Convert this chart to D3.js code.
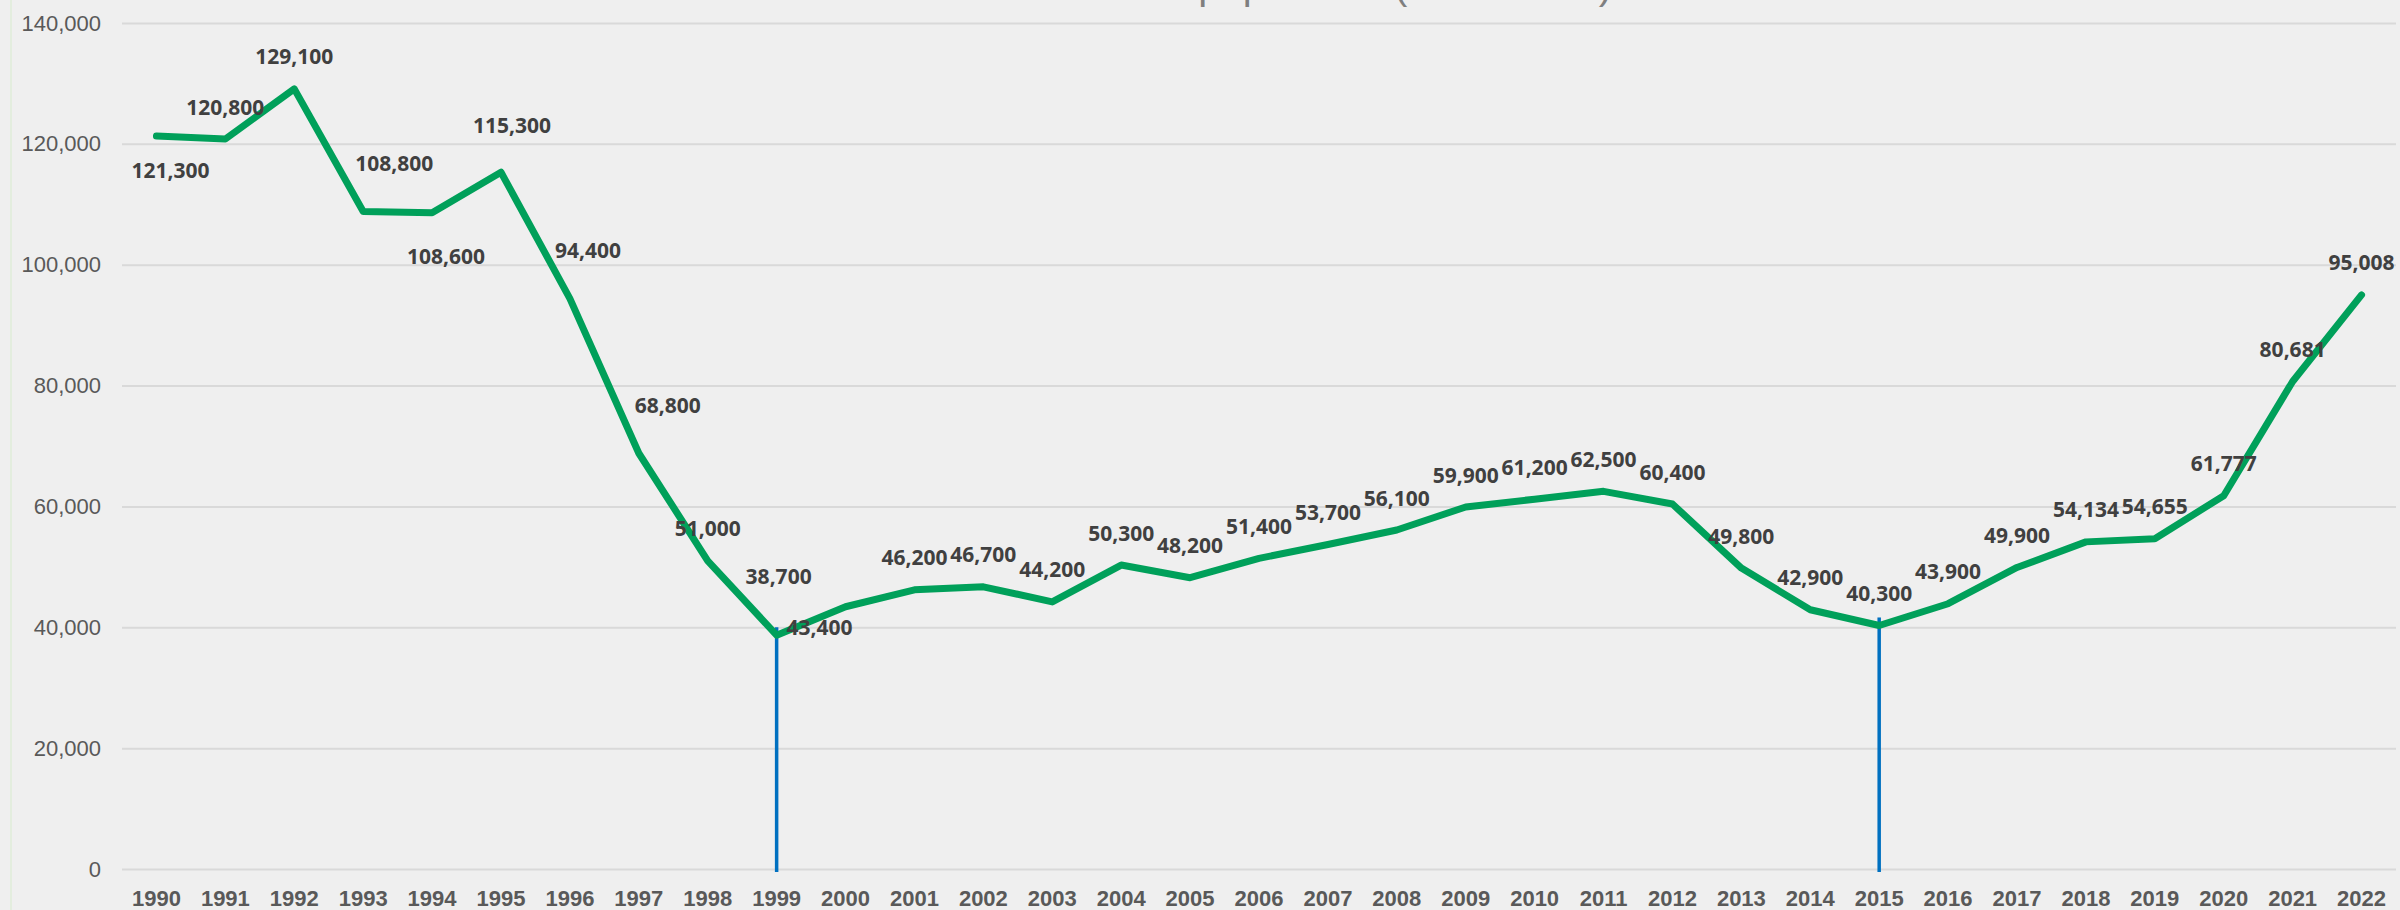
<!DOCTYPE html>
<html>
<head>
<meta charset="utf-8">
<script src="https://cdn.jsdelivr.net/npm/d3@7"></script>
<style>
  html, body { margin: 0; padding: 0; background: #efefef; }
  svg { display: block; }
</style>
</head>
<body>
<svg id="chart" width="2400" height="910"></svg>
<script>
// data
var years = [1990, 1991, 1992, 1993, 1994, 1995, 1996, 1997, 1998, 1999, 2000,
  2001, 2002, 2003, 2004, 2005, 2006, 2007, 2008, 2009, 2010, 2011,
  2012, 2013, 2014, 2015, 2016, 2017, 2018, 2019, 2020, 2021, 2022];
var values = [121300, 120800, 129100, 108800, 108600, 115300, 94400, 68800, 51000, 38700, 43400,
  46200, 46700, 44200, 50300, 48200, 51400, 53700, 56100, 59900, 61200, 62500,
  60400, 49800, 42900, 40300, 43900, 49900, 54134, 54655, 61777, 80681, 95008];
var yTicks = [0, 20000, 40000, 60000, 80000, 100000, 120000, 140000];
var markerYears = [1999, 2015];
var titleText = 'Total population (1990-2022)';

// label placement tweaks (default sits above the point)
var labelNudge = {
  1990: [14, 34], 1993: [31, -48], 1994: [14, 44], 1995: [11, -47],
  1996: [18, -48], 1997: [29, -48], 1999: [2, -59], 2000: [-26, 21]
};

var W = 2400, H = 910;
var plotLeft = 122, plotRight = 2396, plotTop = 23, plotBottom = 869;

var svg = d3.select('#chart');

svg.append('rect').attr('width', W).attr('height', H).attr('fill', '#efefef');
// faint frame edge on the left
svg.append('line')
  .attr('x1', 11).attr('x2', 11).attr('y1', 0).attr('y2', H)
  .attr('stroke', '#dfecd8').attr('stroke-width', 1.5);

// title, sits above the frame so only its lowest bits show
svg.append('text')
  .attr('x', 1612).attr('y', -1.5)
  .attr('text-anchor', 'end')
  .attr('font-family', 'Liberation Sans, Arial, sans-serif')
  .attr('font-size', 40)
  .attr('fill', '#7f7f7f')
  .text(titleText);

var x = d3.scaleBand().domain(years).range([plotLeft, plotRight]).padding(0);
var y = d3.scaleLinear().domain([0, 140000]).range([plotBottom, plotTop]);
var cx = function (yr) { return x(yr) + x.bandwidth() / 2; };

// y axis + gridlines
var yAxis = d3.axisLeft(y)
  .tickValues(yTicks)
  .tickSize(-(plotRight - plotLeft))
  .tickPadding(21)
  .tickFormat(d3.format(','));

var gy = svg.append('g')
  .attr('transform', 'translate(' + plotLeft + ',0)')
  .call(yAxis);
gy.select('.domain').remove();
gy.selectAll('line').attr('stroke', '#d9d9d9').attr('stroke-width', 2);
gy.selectAll('text')
  .attr('font-family', 'Liberation Sans, Arial, sans-serif')
  .attr('font-size', 22)
  .attr('fill', '#595959');

// x axis
var xAxis = d3.axisBottom(x).tickSize(0).tickPadding(21.4);
var gx = svg.append('g')
  .attr('transform', 'translate(0,' + plotBottom + ')')
  .call(xAxis);
gx.select('.domain').remove();
gx.selectAll('text')
  .attr('font-family', 'Liberation Sans, Arial, sans-serif')
  .attr('font-size', 22)
  .attr('font-weight', 'bold')
  .attr('fill', '#595959');

var data = years.map(function (yr, i) { return { year: yr, value: values[i] }; });

// blue marker lines
svg.selectAll('.marker')
  .data(data.filter(function (d) { return markerYears.indexOf(d.year) >= 0; }))
  .enter().append('line')
  .attr('class', 'marker')
  .attr('x1', function (d) { return cx(d.year); })
  .attr('x2', function (d) { return cx(d.year); })
  .attr('y1', function (d) { return y(d.value) - 8; })
  .attr('y2', y(0) + 3)
  .attr('stroke', '#0070c0')
  .attr('stroke-width', 3.5);

// main line
var line = d3.line()
  .x(function (d) { return cx(d.year); })
  .y(function (d) { return y(d.value); });

svg.append('path')
  .datum(data)
  .attr('d', line)
  .attr('fill', 'none')
  .attr('stroke', '#00a05a')
  .attr('stroke-width', 7)
  .attr('stroke-linejoin', 'round')
  .attr('stroke-linecap', 'round');

// data labels
svg.selectAll('.lbl')
  .data(data)
  .enter().append('text')
  .attr('class', 'lbl')
  .attr('x', function (d) { return cx(d.year) + (labelNudge[d.year] || [0, -32])[0]; })
  .attr('y', function (d) { return y(d.value) + (labelNudge[d.year] || [0, -32])[1]; })
  .attr('dy', '0.36em')
  .attr('text-anchor', 'middle')
  .attr('font-family', 'Noto Sans, Open Sans, sans-serif')
  .attr('font-weight', 'bold')
  .attr('font-size', 21)
  .attr('fill', '#404040')
  .text(function (d) { return d3.format(',')(d.value); });
</script>
</body>
</html>
